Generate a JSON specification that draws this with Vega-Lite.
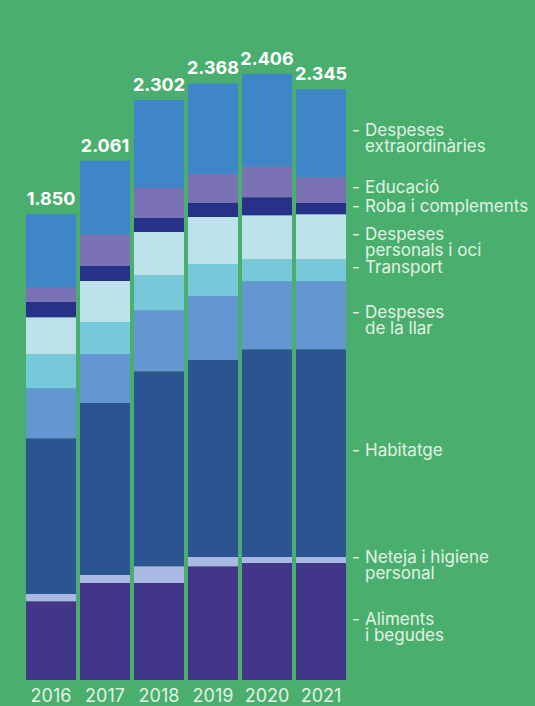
{
  "$schema": "https://vega.github.io/schema/vega-lite/v6.json",
  "width": 320,
  "height": 655,
  "autosize": "none",
  "padding": {"left": 26, "top": 25, "right": 189, "bottom": 26},
  "background": "#4aaf6e",
  "config": {"view": {"stroke": null}, "font": "Inter"},
  "datasets": {
    "spend": [
      {"year": "2016", "cat": "Aliments i begudes", "order": 1, "value": 313},
      {"year": "2016", "cat": "Neteja i higiene personal", "order": 2, "value": 28},
      {"year": "2016", "cat": "Habitatge", "order": 3, "value": 619},
      {"year": "2016", "cat": "Despeses de la llar", "order": 4, "value": 198},
      {"year": "2016", "cat": "Transport", "order": 5, "value": 135},
      {"year": "2016", "cat": "Despeses personals i oci", "order": 6, "value": 147},
      {"year": "2016", "cat": "Roba i complements", "order": 7, "value": 60},
      {"year": "2016", "cat": "Educació", "order": 8, "value": 58},
      {"year": "2016", "cat": "Despeses extraordinàries", "order": 9, "value": 292},
      {"year": "2017", "cat": "Aliments i begudes", "order": 1, "value": 385},
      {"year": "2017", "cat": "Neteja i higiene personal", "order": 2, "value": 32},
      {"year": "2017", "cat": "Habitatge", "order": 3, "value": 683},
      {"year": "2017", "cat": "Despeses de la llar", "order": 4, "value": 194},
      {"year": "2017", "cat": "Transport", "order": 5, "value": 127},
      {"year": "2017", "cat": "Despeses personals i oci", "order": 6, "value": 163},
      {"year": "2017", "cat": "Roba i complements", "order": 7, "value": 60},
      {"year": "2017", "cat": "Educació", "order": 8, "value": 123},
      {"year": "2017", "cat": "Despeses extraordinàries", "order": 9, "value": 294},
      {"year": "2018", "cat": "Aliments i begudes", "order": 1, "value": 385},
      {"year": "2018", "cat": "Neteja i higiene personal", "order": 2, "value": 67},
      {"year": "2018", "cat": "Habitatge", "order": 3, "value": 774},
      {"year": "2018", "cat": "Despeses de la llar", "order": 4, "value": 242},
      {"year": "2018", "cat": "Transport", "order": 5, "value": 139},
      {"year": "2018", "cat": "Despeses personals i oci", "order": 6, "value": 171},
      {"year": "2018", "cat": "Roba i complements", "order": 7, "value": 56},
      {"year": "2018", "cat": "Educació", "order": 8, "value": 119},
      {"year": "2018", "cat": "Despeses extraordinàries", "order": 9, "value": 349},
      {"year": "2019", "cat": "Aliments i begudes", "order": 1, "value": 452},
      {"year": "2019", "cat": "Neteja i higiene personal", "order": 2, "value": 36},
      {"year": "2019", "cat": "Habitatge", "order": 3, "value": 782},
      {"year": "2019", "cat": "Despeses de la llar", "order": 4, "value": 254},
      {"year": "2019", "cat": "Transport", "order": 5, "value": 127},
      {"year": "2019", "cat": "Despeses personals i oci", "order": 6, "value": 187},
      {"year": "2019", "cat": "Roba i complements", "order": 7, "value": 56},
      {"year": "2019", "cat": "Educació", "order": 8, "value": 115},
      {"year": "2019", "cat": "Despeses extraordinàries", "order": 9, "value": 359},
      {"year": "2020", "cat": "Aliments i begudes", "order": 1, "value": 464},
      {"year": "2020", "cat": "Neteja i higiene personal", "order": 2, "value": 24},
      {"year": "2020", "cat": "Habitatge", "order": 3, "value": 825},
      {"year": "2020", "cat": "Despeses de la llar", "order": 4, "value": 270},
      {"year": "2020", "cat": "Transport", "order": 5, "value": 87},
      {"year": "2020", "cat": "Despeses personals i oci", "order": 6, "value": 175},
      {"year": "2020", "cat": "Roba i complements", "order": 7, "value": 71},
      {"year": "2020", "cat": "Educació", "order": 8, "value": 123},
      {"year": "2020", "cat": "Despeses extraordinàries", "order": 9, "value": 367},
      {"year": "2021", "cat": "Aliments i begudes", "order": 1, "value": 464},
      {"year": "2021", "cat": "Neteja i higiene personal", "order": 2, "value": 24},
      {"year": "2021", "cat": "Habitatge", "order": 3, "value": 825},
      {"year": "2021", "cat": "Despeses de la llar", "order": 4, "value": 270},
      {"year": "2021", "cat": "Transport", "order": 5, "value": 87},
      {"year": "2021", "cat": "Despeses personals i oci", "order": 6, "value": 179},
      {"year": "2021", "cat": "Roba i complements", "order": 7, "value": 44},
      {"year": "2021", "cat": "Educació", "order": 8, "value": 103},
      {"year": "2021", "cat": "Despeses extraordinàries", "order": 9, "value": 349}
    ],
    "totals": [
      {"year": "2016", "total": 1850, "label": "1.850"},
      {"year": "2017", "total": 2061, "label": "2.061"},
      {"year": "2018", "total": 2302, "label": "2.302"},
      {"year": "2019", "total": 2368, "label": "2.368"},
      {"year": "2020", "total": 2406, "label": "2.406"},
      {"year": "2021", "total": 2345, "label": "2.345"}
    ],
    "labels": [
      {"cat": "Aliments i begudes", "text": "Aliments\ni begudes"},
      {"cat": "Neteja i higiene personal", "text": "Neteja i higiene\npersonal"},
      {"cat": "Habitatge", "text": "Habitatge"},
      {"cat": "Despeses de la llar", "text": "Despeses\nde la llar"},
      {"cat": "Transport", "text": "Transport"},
      {"cat": "Despeses personals i oci", "text": "Despeses\npersonals i oci"},
      {"cat": "Roba i complements", "text": "Roba i complements"},
      {"cat": "Educació", "text": "Educació"},
      {"cat": "Despeses extraordinàries", "text": "Despeses\nextraordinàries"}
    ]
  },
  "encoding": {
    "x": {
      "field": "year", "type": "nominal",
      "scale": {"paddingInner": 0.074, "paddingOuter": 0},
      "axis": {
        "title": null, "ticks": false, "domain": false, "labelAngle": 0,
        "labelFontSize": 18, "labelColor": "#e2f2e4", "labelPadding": 7,
        "labelBaseline": "top", "labelFont": "Inter"
      }
    }
  },
  "layer": [
    {
      "data": {"name": "spend"},
      "mark": {"type": "bar"},
      "encoding": {
        "y": {
          "field": "value", "type": "quantitative", "stack": "zero",
          "scale": {"domain": [0, 2600], "nice": false},
          "axis": null
        },
        "color": {
          "field": "cat", "type": "nominal", "legend": null,
          "scale": {
            "domain": ["Aliments i begudes", "Neteja i higiene personal", "Habitatge", "Despeses de la llar", "Transport", "Despeses personals i oci", "Roba i complements", "Educació", "Despeses extraordinàries"],
            "range": ["#433689", "#a9b9e3", "#2b5591", "#6497d2", "#76c8da", "#bee2ea", "#27318a", "#7a72b5", "#3f86c8"]
          }
        },
        "order": {"field": "order", "type": "quantitative"}
      }
    },
    {
      "data": {"name": "totals"},
      "mark": {"type": "text", "fontSize": 18, "fontWeight": "bold", "color": "#ffffff", "baseline": "alphabetic", "dy": -9},
      "encoding": {
        "y": {"field": "total", "type": "quantitative"},
        "text": {"field": "label"}
      }
    },
    {
      "data": {"name": "spend"},
      "transform": [
        {"filter": "datum.year == '2021'"},
        {"stack": "value", "groupby": ["year"], "sort": [{"field": "order"}], "as": ["v0", "v1"]},
        {"calculate": "(datum.v0 + datum.v1) / 2", "as": "mid"},
        {"lookup": "cat", "from": {"data": {"name": "labels"}, "key": "cat", "fields": ["text"]}}
      ],
      "layer": [
        {
          "mark": {"type": "text", "text": "-", "align": "left", "baseline": "top", "dx": 31, "dy": -10, "fontSize": 17, "color": "#e2f2e4"},
          "encoding": {"y": {"field": "mid", "type": "quantitative"}}
        },
        {
          "mark": {"type": "text", "align": "left", "baseline": "top", "dx": 44, "dy": -10, "fontSize": 17, "lineBreak": "\n", "lineHeight": 16, "color": "#e2f2e4"},
          "encoding": {
            "y": {"field": "mid", "type": "quantitative"},
            "text": {"field": "text"}
          }
        }
      ]
    }
  ]
}
